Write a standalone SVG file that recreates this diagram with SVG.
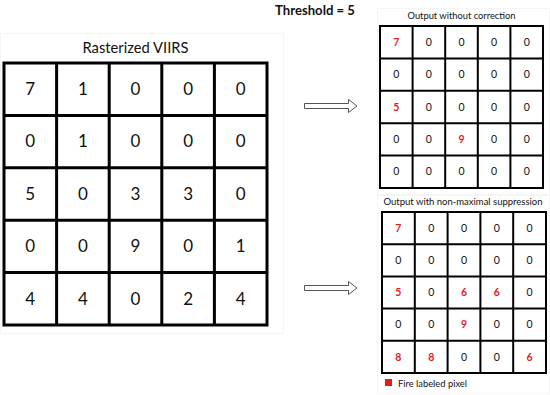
<svg xmlns="http://www.w3.org/2000/svg" width="550" height="395" viewBox="0 0 550 395">
<style>
.panel{fill:none;stroke:#f5f5f5;stroke-width:1}
.gbig{fill:#fff;stroke:#000;stroke-width:3}
.gsm{fill:#fff;stroke:#000;stroke-width:2}
.big{font-family:Lato,"Open Sans",sans-serif;font-size:17px;fill:#111;text-anchor:middle}
.sm{font-family:Lato,"Open Sans",sans-serif;font-size:10.5px;fill:#111;text-anchor:middle}
.red{fill:#e41b1b;font-weight:bold}
.title{font-family:Lato,"Open Sans",sans-serif;font-size:16px;fill:#111;text-anchor:middle}
.stitle{font-family:Lato,"Open Sans",sans-serif;font-size:10px;fill:#111;text-anchor:middle}
.arrow{fill:#fff;stroke:#555;stroke-width:1}
</style>
<rect width="550" height="395" fill="#fff"/>
<rect class="panel" x="0.5" y="33.5" width="283" height="300"/>
<rect class="panel" x="377.5" y="8.5" width="172" height="186"/>
<rect class="panel" x="377.5" y="195.5" width="172" height="198"/>
<text x="275" y="15" font-family="Lato,'Open Sans',sans-serif" font-size="14" font-weight="bold" fill="#111" textLength="80" lengthAdjust="spacingAndGlyphs">Threshold = 5</text>

<g id="rasterized-viirs">
<text class="title" x="135.5" y="53" textLength="106" lengthAdjust="spacingAndGlyphs">Rasterized VIIRS</text>
<rect class="gbig" x="4" y="63" width="263" height="262"/>
<path class="gbig" d="M56.6 63V325M109.2 63V325M161.8 63V325M214.4 63V325M4 115.4H267M4 167.8H267M4 220.2H267M4 272.6H267"/>
<g class="big">
<text x="30.3" y="95">7</text><text x="82.9" y="95">1</text><text x="135.5" y="95">0</text><text x="188.1" y="95">0</text><text x="240.7" y="95">0</text>
<text x="30.3" y="147.4">0</text><text x="82.9" y="147.4">1</text><text x="135.5" y="147.4">0</text><text x="188.1" y="147.4">0</text><text x="240.7" y="147.4">0</text>
<text x="30.3" y="199.8">5</text><text x="82.9" y="199.8">0</text><text x="135.5" y="199.8">3</text><text x="188.1" y="199.8">3</text><text x="240.7" y="199.8">0</text>
<text x="30.3" y="252.2">0</text><text x="82.9" y="252.2">0</text><text x="135.5" y="252.2">9</text><text x="188.1" y="252.2">0</text><text x="240.7" y="252.2">1</text>
<text x="30.3" y="304.6">4</text><text x="82.9" y="304.6">4</text><text x="135.5" y="304.6">0</text><text x="188.1" y="304.6">2</text><text x="240.7" y="304.6">4</text>
</g>
</g>

<g id="connectors">
<path class="arrow" d="M304.5 103.5H348.5V99.5L357 106L348.5 112.5V108.5H304.5Z"/>
<path class="arrow" d="M304.5 285.5H348.5V281.5L357 288L348.5 294.5V290.5H304.5Z"/>
</g>

<g id="output-without-correction">
<text class="stitle" x="461.5" y="19" textLength="108" lengthAdjust="spacingAndGlyphs">Output without correction</text>
<rect class="gsm" x="380" y="26" width="163" height="162"/>
<path class="gsm" d="M412.6 26V188M445.2 26V188M477.8 26V188M510.4 26V188M380 58.4H543M380 90.8H543M380 123.2H543M380 155.6H543"/>
<g class="sm">
<text class="red" x="396.3" y="45.8">7</text><text x="428.9" y="45.8">0</text><text x="461.5" y="45.8">0</text><text x="494.1" y="45.8">0</text><text x="526.7" y="45.8">0</text>
<text x="396.3" y="78.2">0</text><text x="428.9" y="78.2">0</text><text x="461.5" y="78.2">0</text><text x="494.1" y="78.2">0</text><text x="526.7" y="78.2">0</text>
<text class="red" x="396.3" y="110.6">5</text><text x="428.9" y="110.6">0</text><text x="461.5" y="110.6">0</text><text x="494.1" y="110.6">0</text><text x="526.7" y="110.6">0</text>
<text x="396.3" y="143">0</text><text x="428.9" y="143">0</text><text class="red" x="461.5" y="143">9</text><text x="494.1" y="143">0</text><text x="526.7" y="143">0</text>
<text x="396.3" y="175.4">0</text><text x="428.9" y="175.4">0</text><text x="461.5" y="175.4">0</text><text x="494.1" y="175.4">0</text><text x="526.7" y="175.4">0</text>
</g>
</g>

<g id="output-nms">
<text class="stitle" x="463" y="205" textLength="159" lengthAdjust="spacingAndGlyphs">Output with non-maximal suppression</text>
<rect class="gsm" x="382" y="212" width="164" height="161"/>
<path class="gsm" d="M414.8 212V373M447.6 212V373M480.4 212V373M513.2 212V373M382 244.2H546M382 276.4H546M382 308.6H546M382 340.8H546"/>
<g class="sm">
<text class="red" x="398.4" y="231.7">7</text><text x="431.2" y="231.7">0</text><text x="464" y="231.7">0</text><text x="496.8" y="231.7">0</text><text x="529.6" y="231.7">0</text>
<text x="398.4" y="263.9">0</text><text x="431.2" y="263.9">0</text><text x="464" y="263.9">0</text><text x="496.8" y="263.9">0</text><text x="529.6" y="263.9">0</text>
<text class="red" x="398.4" y="296.1">5</text><text x="431.2" y="296.1">0</text><text class="red" x="464" y="296.1">6</text><text class="red" x="496.8" y="296.1">6</text><text x="529.6" y="296.1">0</text>
<text x="398.4" y="328.3">0</text><text x="431.2" y="328.3">0</text><text class="red" x="464" y="328.3">9</text><text x="496.8" y="328.3">0</text><text x="529.6" y="328.3">0</text>
<text class="red" x="398.4" y="360.5">8</text><text class="red" x="431.2" y="360.5">8</text><text x="464" y="360.5">0</text><text x="496.8" y="360.5">0</text><text class="red" x="529.6" y="360.5">6</text>
</g>
</g>

<g id="legend">
<rect x="385" y="379" width="7" height="7" fill="#e41b1b"/>
<text x="398" y="386.5" font-family="Lato,'Open Sans',sans-serif" font-size="10" fill="#111" textLength="69" lengthAdjust="spacingAndGlyphs">Fire labeled pixel</text>
</g>
</svg>
